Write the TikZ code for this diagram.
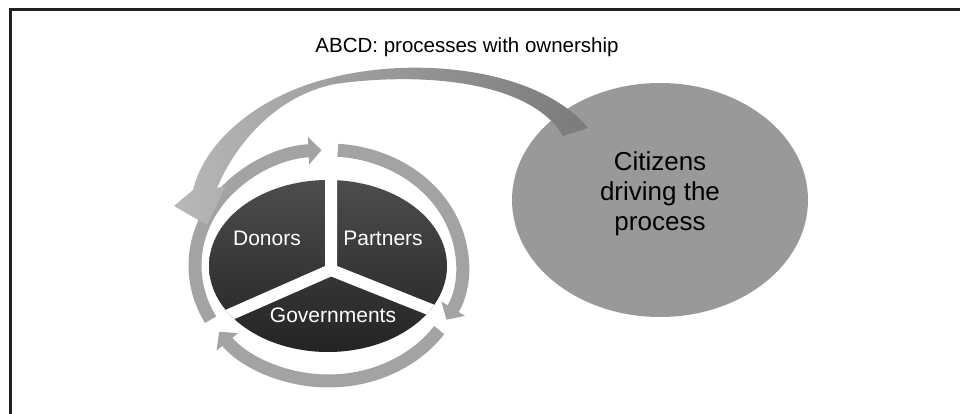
\documentclass[tikz,border=0pt]{standalone}
\usepackage{fontspec}
\setmainfont{Liberation Sans}
\usetikzlibrary{arrows.meta,shapes.geometric,calc}

\begin{document}
\begin{tikzpicture}[x=1pt, y=1pt,
    ring/.style={line width=13pt, draw=black!36, -{Triangle[width=27pt,length=13pt]}},
    sektor/.style={text=white, font=\fontsize{21}{24}\selectfont},
    ]
    \useasboundingbox (0,0) rectangle (960,414);

    % Rahmen
    \draw[line width=3pt, black!88] (10.5,0) -- (10.5,404.5) -- (960,404.5);

    % Buerger
    \node[ellipse, fill=black!40, minimum width=296pt, minimum height=234pt, inner sep=0pt] (citizens) at (660,214) {};
    \node[align=center, font=\fontsize{26}{30}\selectfont] (ctext) at ([yshift=6.5pt]citizens.center) {Citizens\\driving the\\process};

    % Titel
    \node[anchor=base, font=\fontsize{20.5}{24}\selectfont] (titel) at (467,361) {ABCD: processes with ownership};

    % Torte
    \coordinate (torte) at (328,148);
    \coordinate (mitte) at (331,144);
    \begin{scope}
      \clip (torte) ellipse [x radius=119pt, y radius=86pt];
      \shade[top color=black!70, bottom color=black!86] (torte) ellipse [x radius=119pt, y radius=86pt];
      \draw[white, line width=12pt] (mitte) -- ++(0,130) (mitte) -- ++(-143,-63) (mitte) -- ++(158,-63);
    \end{scope}
    \node[sektor] (donors) at (267,176) {Donors};
    \node[sektor] (partners) at (383,176) {Partners};
    \node[sektor] (govs) at (333,99) {Governments};

    % Kreislauf
    \coordinate (ring) at (328.5,148.5);
    \draw[ring] ($(ring)+(208:133.5pt and 115.5pt)$) arc[start angle=208, end angle=93, x radius=133.5pt, y radius=115.5pt];
    \draw[ring] ($(ring)+(86:133.5pt and 115.5pt)$) arc[start angle=86, end angle=-28, x radius=133.5pt, y radius=115.5pt];
    \draw[ring] ($(ring)+(-34:133.5pt and 115.5pt)$) arc[start angle=-34, end angle=-145, x radius=133.5pt, y radius=115.5pt];

    % grosser Pfeil
    \shade[left color=black!28, right color=black!52]
      (563,278) -- (588,286) .. controls (540,344) and (420,359) .. (330,336)
      .. controls (260,319) and (205,274) .. (193,224)
      -- (174,208) -- (207,189) -- (226,228) -- (217,226)
      .. controls (235,269) and (275,318) .. (335,330)
      .. controls (420,342) and (530,334) .. (563,278) -- cycle;

\end{tikzpicture}
\end{document}
